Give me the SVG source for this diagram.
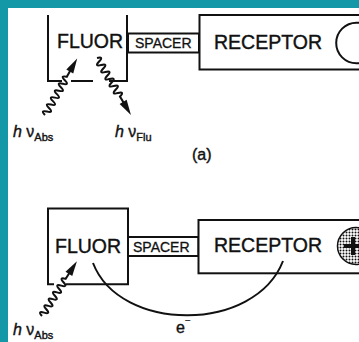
<svg xmlns="http://www.w3.org/2000/svg" width="359" height="342" viewBox="0 0 359 342">
  <style>
    .ln { fill: none; stroke: #111; stroke-width: 2; }
    .box { fill: #fff; stroke: #111; stroke-width: 2; }
    .big { font-family: "Liberation Sans", Arial, sans-serif; font-size: 19.5px; fill: #111; stroke: #111; stroke-width: 0.4; }
    .sp { font-family: "Liberation Sans", Arial, sans-serif; font-size: 14px; fill: #111; stroke: #111; stroke-width: 0.3; }
    .lbl { font-family: "Liberation Sans", Arial, sans-serif; font-size: 16px; fill: #111; stroke: #111; stroke-width: 0.4; }
    .wave { fill: none; stroke: #111; stroke-width: 2; }
    .head { fill: #111; }
  </style>
  <defs>
    <pattern id="dots" width="3" height="3" patternUnits="userSpaceOnUse">
      <rect width="3" height="3" fill="#fff"/>
      <circle cx="1.5" cy="1.5" r="1" fill="#111"/>
    </pattern>
    <g id="wavyArrow">
      <path class="wave" d="M0,0 q2,-7 4,0 t4,0 t4,0 t4,0 t4,0 t4,0 t4,0 t4,0 t4,0 t4,0 t4,0 L54,0"/>
      <polygon class="head" points="50,-4 65,0 50,4"/>
    </g>
  </defs>
  <rect width="359" height="342" fill="#fff"/>
  <rect x="0" y="0" width="359" height="8" fill="#1497a6"/>
  <rect x="0" y="0" width="8" height="342" fill="#1497a6"/>

  <!-- Panel (a) -->
  <g id="fluor-a">
    <path class="ln" d="M48,15 V81 H62 M71,81 H93 M109,81 H127 V15"/>
    <text class="big" x="57" y="48">FLUOR</text>
  </g>
  <g id="spacer-a">
    <rect class="box" x="128" y="33.5" width="71" height="19"/>
    <text class="sp" x="135" y="48">SPACER</text>
  </g>
  <g id="receptor-a">
    <rect class="box" x="199.5" y="15" width="170" height="54.5"/>
    <text class="big" x="214" y="48.5">RECEPTOR</text>
    <circle cx="356.5" cy="43" r="20.3" fill="#fff" stroke="#111" stroke-width="2"/>
  </g>

  <!-- Panel (b) -->
  <g id="fluor-b">
    <path class="ln" d="M54,284.3 H48 V208.5 H128 V284.3 H66"/>
    <text class="big" x="55" y="252.7">FLUOR</text>
  </g>
  <g id="spacer-b">
    <rect class="box" x="128" y="237" width="70.5" height="19"/>
    <text class="sp" x="133" y="252">SPACER</text>
  </g>
  <g id="receptor-b">
    <rect class="box" x="198.5" y="220" width="170" height="53.3"/>
    <text class="big" x="214" y="251.7">RECEPTOR</text>
    <circle cx="356" cy="246" r="18.5" fill="url(#dots)" stroke="#111" stroke-width="1.5"/>
    <path d="M344,246 H359 M353,237 V255" stroke="#111" stroke-width="4" fill="none"/>
  </g>

  <g id="connectors">
    <use href="#wavyArrow" transform="translate(45,115) rotate(-60.3)"/>
    <use href="#wavyArrow" transform="translate(97,58) rotate(59.2) scale(1.02)"/>
    <use href="#wavyArrow" transform="translate(42,316) rotate(-57.5)"/>
    <path class="ln" d="M93,263 C120,333 255,333 283,261" stroke-width="1.8"/>
  </g>

  <g id="labels">
    <text class="lbl" x="13" y="137"><tspan font-style="italic">h</tspan> ν<tspan font-size="11" dy="4">Abs</tspan></text>
    <text class="lbl" x="115" y="137"><tspan font-style="italic">h</tspan> ν<tspan font-size="11" dy="4">Flu</tspan></text>
    <text class="lbl" x="192" y="160">(a)</text>
    <text class="lbl" x="13" y="335"><tspan font-style="italic">h</tspan> ν<tspan font-size="11" dy="4">Abs</tspan></text>
    <text class="lbl" x="176" y="333" font-size="15">e<tspan font-size="10" dy="-9" stroke-width="0.2">−</tspan></text>
  </g>
</svg>
